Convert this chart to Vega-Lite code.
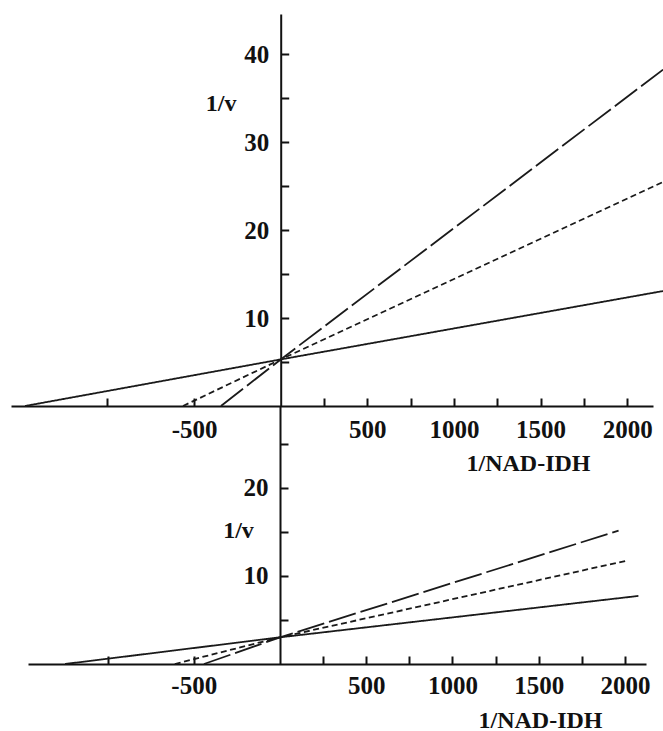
{
  "$schema": "https://vega.github.io/schema/vega-lite/v6.json",
  "padding": {"left": 11, "top": 14, "right": 0, "bottom": 0},
  "background": "white",
  "bounds": "flush",
  "spacing": 0,
  "config": {
    "view": {"stroke": null},
    "axis": {
      "labelFont": "Liberation Serif", "labelFontWeight": "bold", "labelFontSize": 25, "labelColor": "#111",
      "titleFont": "Liberation Serif", "titleFontWeight": "bold", "titleFontSize": 24, "titleColor": "#111",
      "domainColor": "#111", "domainWidth": 2, "tickColor": "#111", "tickWidth": 2, "grid": false
    }
  },
  "datasets": {
    "top": [
      {"series": "line 1", "x": -1476, "y": 0},
      {"series": "line 1", "x": 0, "y": 5.3},
      {"series": "line 1", "x": 2207, "y": 13.08},
      {"series": "line 2", "x": -564, "y": 0},
      {"series": "line 2", "x": 0, "y": 5.3},
      {"series": "line 2", "x": 2207, "y": 25.49},
      {"series": "line 3", "x": -345, "y": 0},
      {"series": "line 3", "x": 0, "y": 5.3},
      {"series": "line 3", "x": 2207, "y": 38.27}
    ],
    "bottom": [
      {"series": "line 1", "x": -1246, "y": 0},
      {"series": "line 1", "x": 0, "y": 3.03},
      {"series": "line 1", "x": 2078, "y": 7.73},
      {"series": "line 2", "x": -610, "y": 0},
      {"series": "line 2", "x": 0, "y": 3.03},
      {"series": "line 2", "x": 2012, "y": 11.74},
      {"series": "line 3", "x": -441, "y": 0},
      {"series": "line 3", "x": 0, "y": 3.03},
      {"series": "line 3", "x": 1963, "y": 15.15}
    ]
  },
  "vconcat": [
    {
      "width": 652,
      "height": 392,
      "data": {"name": "top"},
      "mark": {"type": "line", "strokeWidth": 1.8, "color": "#1a1a1a", "clip": false},
      "encoding": {
        "x": {
          "field": "x", "type": "quantitative",
          "scale": {"domain": [-1557, 2149], "range": [0, 642], "nice": false, "zero": false},
          "axis": {
            "values": [-1000, -500, 250, 500, 750, 1000, 1250, 1500, 1750, 2000],
            "labelExpr": "datum.value != -1000 && datum.value % 500 == 0 ? '' + datum.value : ''",
            "tickSize": -8, "labelPadding": 31, "labelBaseline": "middle", "labelFlush": false,
            "title": "1/NAD-IDH", "titleX": 517, "titleY": 57, "titleAlign": "center", "titleBaseline": "middle"
          }
        },
        "y": {
          "field": "y", "type": "quantitative",
          "scale": {"domain": [0, 44.6], "nice": false},
          "axis": {
            "values": [5, 10, 15, 20, 25, 30, 35, 40],
            "labelExpr": "datum.value % 10 == 0 ? datum.label : ''",
            "offset": -269.7,
            "tickSize": -8, "labelPadding": 20, "labelFlush": false,
            "title": "1/v", "titleAngle": 0, "titleX": -60, "titleY": 89, "titleAlign": "center", "titleBaseline": "middle"
          }
        },
        "strokeDash": {
          "field": "series", "type": "nominal",
          "scale": {"domain": ["line 1", "line 2", "line 3"], "range": [[1, 0], [6, 3.5], [28, 5]]},
          "legend": null
        }
      }
    },
    {
      "width": 652,
      "height": 258,
      "data": {"name": "bottom"},
      "mark": {"type": "line", "strokeWidth": 1.8, "color": "#1a1a1a", "clip": false},
      "encoding": {
        "x": {
          "field": "x", "type": "quantitative",
          "scale": {"domain": [-1461, 2122], "range": [17, 635], "nice": false, "zero": false},
          "axis": {
            "values": [-1000, -500, 250, 500, 750, 1000, 1250, 1500, 1750, 2000],
            "labelExpr": "datum.value != -1000 && datum.value % 500 == 0 ? '' + datum.value : ''",
            "tickSize": -8, "labelPadding": 29, "labelBaseline": "middle", "labelFlush": false,
            "title": "1/NAD-IDH", "titleX": 529, "titleY": 56, "titleAlign": "center", "titleBaseline": "middle"
          }
        },
        "y": {
          "field": "y", "type": "quantitative",
          "scale": {"domain": [0, 29.3], "nice": false},
          "axis": {
            "values": [5, 10, 15, 20, 25],
            "labelExpr": "datum.value % 10 == 0 ? datum.label : ''",
            "offset": -269,
            "tickSize": -8, "labelPadding": 20, "labelFlush": false,
            "title": "1/v", "titleAngle": 0, "titleX": -42, "titleY": 124, "titleAlign": "center", "titleBaseline": "middle"
          }
        },
        "strokeDash": {
          "field": "series", "type": "nominal",
          "scale": {"domain": ["line 1", "line 2", "line 3"], "range": [[1, 0], [6, 3.5], [28, 5]]},
          "legend": null
        }
      }
    }
  ]
}
